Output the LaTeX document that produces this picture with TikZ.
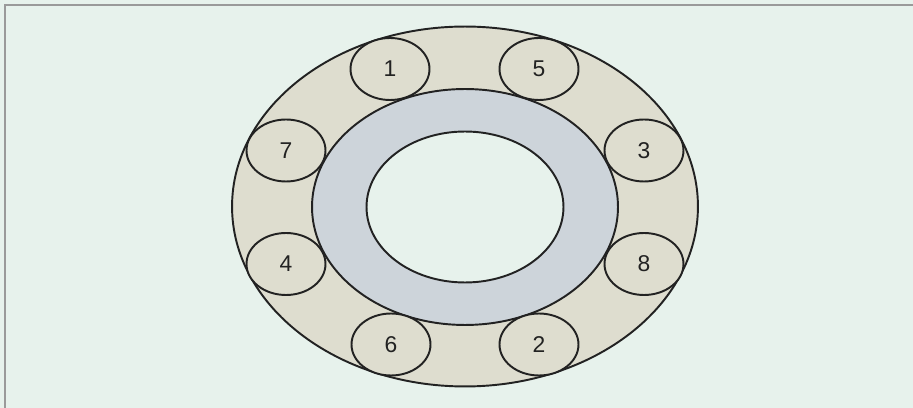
\documentclass[tikz,border=0pt]{standalone}
\usepackage{fontspec}
\setsansfont{Liberation Sans}
\usetikzlibrary{shapes.geometric, positioning}
\definecolor{bgmint}{HTML}{E7F2EC}
\definecolor{racetan}{HTML}{DEDDCF}
\definecolor{ringgrey}{HTML}{CDD4DA}
\definecolor{framegrey}{HTML}{9A9A9A}
\definecolor{linedark}{HTML}{222222}
\tikzset{
  ring/.style={ellipse, draw=linedark, line width=1.1pt, inner sep=0pt},
  outerring/.style={ring, fill=racetan, minimum width=9.32cm, minimum height=7.2cm},
  midring/.style={ring, fill=ringgrey, minimum width=6.12cm, minimum height=4.72cm},
  bore/.style={ring, fill=bgmint, minimum width=3.94cm, minimum height=3.02cm},
  ball/.style={ring, fill=racetan, minimum width=1.58cm, minimum height=1.24cm,
    font=\sffamily\fontsize{13}{15}\selectfont, text=linedark},
  framebar/.style={framegrey, line width=1.2pt}
}
\begin{document}
\begin{tikzpicture}[x=0.02cm, y=-0.02cm]

% ===== BACKGROUND =====
\fill[bgmint] (0,0) rectangle (913,408);
\useasboundingbox (0,0) rectangle (913,408);
\coordinate (TL) at (5,5);
\coordinate (TR) at (913,5);
\coordinate (BL) at (5,408);
\draw[framebar] (TR) -- (TL) -- (BL);

% ===== RINGS =====
\node[outerring] (OUT) at (465,206.5) {};
\node[midring]   (MID) at (465,207) {};
\node[bore]      (IN)  at (465,207) {};

% ===== BALLS =====
\node[ball] (B1) at (390,69)    {1};
\node[ball] (B5) at (539,69)    {5};
\node[ball] (B7) at (286,150.5) {7};
\node[ball] (B3) at (644,150.5) {3};
\node[ball] (B4) at (286,264)   {4};
\node[ball] (B8) at (644,264)   {8};
\node[ball] (B6) at (391,344.5) {6};
\node[ball] (B2) at (539,344.5) {2};

\end{tikzpicture}
\end{document}
